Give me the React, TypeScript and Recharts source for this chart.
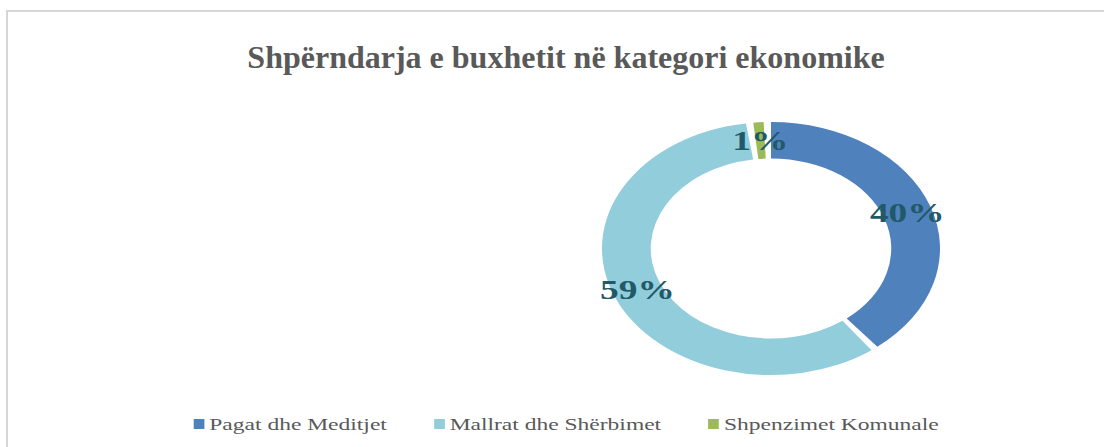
import { PieChart, Pie, Cell } from "recharts";

const categories = ["Pagat dhe Meditjet", "Mallrat dhe Shërbimet", "Shpenzimet Komunale"];
const shares = [40, 59, 1];
const colors = ["#4f81bd", "#92cddc", "#9bbb59"];

const data = categories.map((name, i) => ({ name, value: shares[i] }));

// the source picture is stretched sideways, so the chart is drawn narrow and scaled
const STRETCH = 1.336;
const RAD = Math.PI / 180;
const serif = "'Liberation Serif', 'Times New Roman', serif";

function SliceLabel(props: any) {
  const { cx, cy, midAngle, innerRadius, outerRadius, percent } = props;
  const r = (innerRadius + outerRadius) / 2;
  const x = cx + r * Math.cos(-midAngle * RAD);
  const y = cy + r * Math.sin(-midAngle * RAD);
  return (
    <text
      x={x}
      y={y}
      textAnchor="middle"
      dominantBaseline="central"
      fill="#215968"
      fontFamily={serif}
      fontWeight="bold"
      fontSize={28}
    >
      {`${Math.round(percent * 100)}%`}
    </text>
  );
}

export default function App() {
  const width = 1104 / STRETCH;
  return (
    <div style={{ position: "fixed", left: 0, top: 0, width: 1104, height: 447, overflow: "hidden", background: "#fff" }}>
      <div
        style={{
          position: "absolute",
          left: 0,
          top: 39,
          width: 1132,
          lineHeight: "36px",
          textAlign: "center",
          fontFamily: serif,
          fontWeight: "bold",
          fontSize: 32,
          color: "#595959"
        }}
      >
        Shpërndarja e buxhetit në kategori ekonomike
      </div>
      <div
        style={{
          position: "absolute",
          left: 0,
          top: 0,
          width,
          height: 447,
          transform: `scaleX(${STRETCH})`,
          transformOrigin: "0 0"
        }}
      >
        <PieChart width={width} height={447} margin={{ top: 0, right: 0, bottom: 0, left: 0 }}>
          <Pie
            data={data}
            dataKey="value"
            nameKey="name"
            cx={771 / STRETCH}
            cy={248.5}
            innerRadius={90}
            outerRadius={126.5}
            startAngle={90}
            endAngle={-270}
            paddingAngle={2.5}
            stroke="none"
            label={SliceLabel}
            labelLine={false}
            isAnimationActive={false}
          >
            {data.map((entry, i) => (
              <Cell key={entry.name} fill={colors[i]} />
            ))}
          </Pie>
        </PieChart>
        <div
          style={{
            position: "absolute",
            left: 0,
            top: 414,
            width: (566 * 2) / STRETCH,
            display: "flex",
            justifyContent: "center",
            gap: 35,
            fontFamily: serif,
            fontSize: 17.6,
            lineHeight: "20px",
            color: "#595959"
          }}
        >
          {data.map((entry, i) => (
            <div key={entry.name} style={{ display: "flex", alignItems: "center" }}>
              <span style={{ display: "inline-block", width: 8, height: 10, background: colors[i], marginRight: 4 }} />
              <span>{entry.name}</span>
            </div>
          ))}
        </div>
      </div>
      {/* frame of the chart area: only top and left edges fall inside the picture */}
      <div style={{ position: "absolute", left: 6, top: 10, width: 1098, height: 2, background: "#d6d6d6" }} />
      <div style={{ position: "absolute", left: 6, top: 10, width: 2, height: 437, background: "#d6d6d6" }} />
    </div>
  );
}
